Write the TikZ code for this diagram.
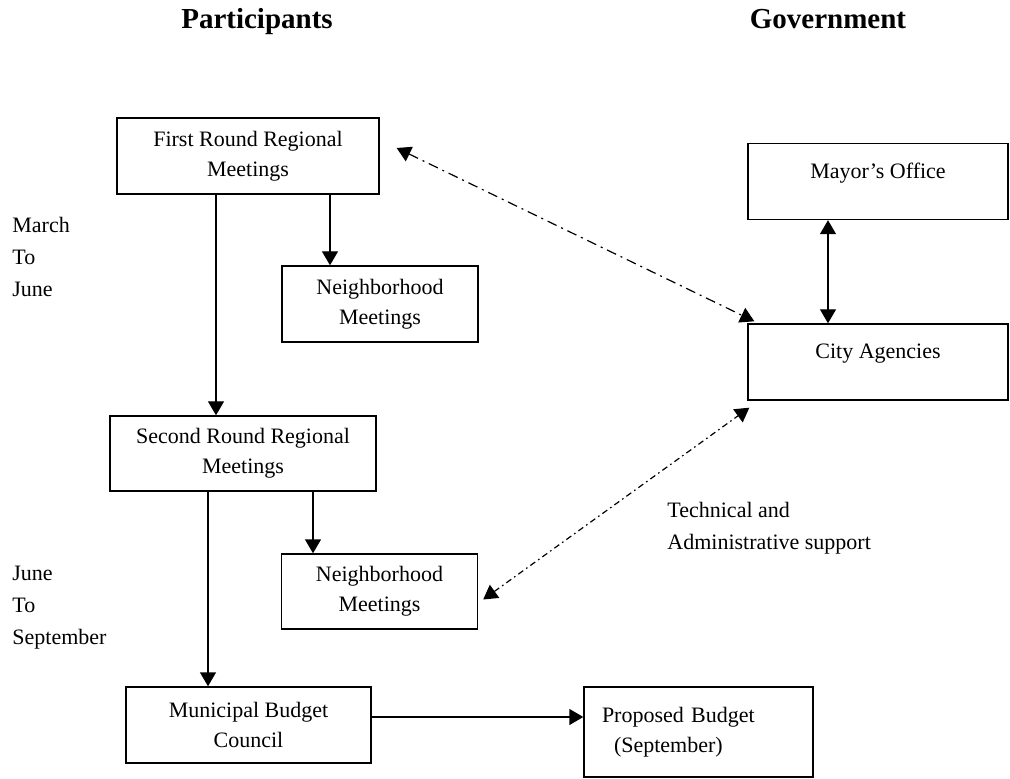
\documentclass[tikz,border=0pt]{standalone}
\usepackage{fontspec}
\setmainfont{Liberation Serif}
\usepackage{tikz}
\usetikzlibrary{arrows.meta}

\begin{document}
\begin{tikzpicture}[x=0.5pt,y=-0.5pt,
  box/.style={draw, line width=0.7pt, align=center, font=\fontsize{11}{15}\selectfont},
  upper/.style={box, minimum width=130pt, minimum height=38pt, text depth=11pt},
  side/.style={inner sep=0pt, align=left, font=\fontsize{11}{16}\selectfont},
  head/.style={inner sep=0pt, font=\fontsize{14.5}{17}\selectfont\bfseries},
  arr/.style={line width=0.7pt, -{Triangle[length=7pt,width=8pt]}},
  twoway/.style={line width=0.7pt, {Triangle[length=7pt,width=8pt]}-{Triangle[length=7pt,width=8pt]}},
  dashdot/.style={line width=0.6pt, dash pattern=on 5pt off 2.5pt on 1pt off 2.5pt},
  dotdash/.style={line width=0.6pt, dash pattern=on 3pt off 1.8pt on 0.8pt off 1.8pt}]

\useasboundingbox (0,0) rectangle (1010,779);

\node[head, anchor=base] (part) at (257,29) {Participants};
\node[head, anchor=base] (gov) at (828,29) {Government};

\node[box, minimum width=131pt, minimum height=38pt] (first) at (248,156) {First Round Regional\\Meetings};
\node[box, minimum width=98pt, minimum height=38pt] (nbhdA) at (380,304) {Neighborhood\\Meetings};
\node[box, minimum width=133pt, minimum height=37.5pt] (second) at (243,453.5) {Second Round Regional\\Meetings};
\node[box, minimum width=98pt, minimum height=37.5pt] (nbhdB) at (379.5,591.5) {Neighborhood\\Meetings};
\node[box, minimum width=122.5pt, minimum height=38pt] (council) at (248.5,725) {Municipal Budget\\Council};
\node[box, align=left, inner xsep=9pt, text width=96.5pt, minimum height=45pt] (proposed) at (698.5,732) {Proposed Budget\\\hspace*{6pt}(September)};

\node[upper] (mayor) at (878,181.5) {Mayor’s Office};
\node[upper] (agencies) at (878,362) {City Agencies};

\node[side, anchor=west] (spring) at (12,257) {March\\To\\June};
\node[side, anchor=west] (summer) at (12,608) {June\\To\\September};
\node[side, anchor=west] (support) at (667,528) {Technical and\\Administrative support};

% participants side
\draw[arr] ([xshift=-16pt]first.south) -- ([xshift=-16pt]first.south |- second.north);
\draw[arr] ([xshift=41pt]first.south) -- ([xshift=41pt]first.south |- nbhdA.north);
\draw[arr] ([xshift=-17.5pt]second.south) -- ([xshift=-17.5pt]second.south |- council.north);
\draw[arr] ([xshift=35pt]second.south) -- ([xshift=35pt]second.south |- nbhdB.north);
\draw[arr] ([yshift=4pt]council.east) -- ([yshift=4pt]council.east -| proposed.west);

% government side
\draw[twoway] ([xshift=-25pt]mayor.south) -- ([xshift=-25pt]mayor.south |- agencies.north);
\draw[twoway, dashdot] ([xshift=8.5pt,yshift=4pt]first.east) -- ([xshift=3.5pt,yshift=1pt]agencies.north west);
\draw[twoway, dotdash] ([xshift=2.5pt,yshift=-4pt]nbhdB.east) -- ([xshift=1pt,yshift=-3.5pt]agencies.south west);

\end{tikzpicture}
\end{document}
